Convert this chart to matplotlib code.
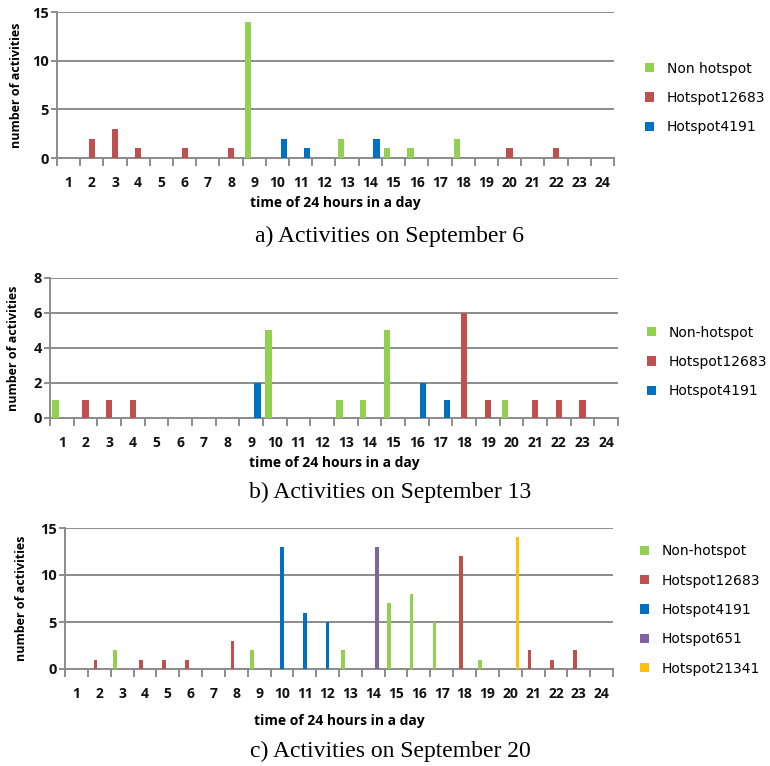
import matplotlib
matplotlib.use("Agg")
import matplotlib.pyplot as plt
import numpy as np

hours = list(range(1, 25))
hour_labels = [str(h) for h in hours]

# Panel a: September 6
a_series = ["Non hotspot", "Hotspot12683", "Hotspot4191"]
a_non = {9: 14, 13: 2, 15: 1, 16: 1, 18: 2}
a_h12683 = {2: 2, 3: 3, 4: 1, 6: 1, 8: 1, 20: 1, 22: 1}
a_h4191 = {10: 2, 11: 1, 14: 2}

# Panel b: September 13
b_series = ["Non-hotspot", "Hotspot12683", "Hotspot4191"]
b_non = {1: 1, 10: 5, 13: 1, 14: 1, 15: 5, 20: 1}
b_h12683 = {2: 1, 3: 1, 4: 1, 18: 6, 19: 1, 21: 1, 22: 1, 23: 1}
b_h4191 = {9: 2, 16: 2, 17: 1}

# Panel c: September 20
c_series = ["Non-hotspot", "Hotspot12683", "Hotspot4191", "Hotspot651", "Hotspot21341"]
c_non = {3: 2, 9: 2, 13: 2, 15: 7, 16: 8, 17: 5, 19: 1}
c_h12683 = {2: 1, 4: 1, 5: 1, 6: 1, 8: 3, 18: 12, 21: 2, 22: 1, 23: 2}
c_h4191 = {10: 13, 11: 6, 12: 5}
c_h651 = {14: 13}
c_h21341 = {20: 14}

colors = ["#92D050", "#C0504D", "#0070C0", "#8064A2", "#FFC000"]
grid_c = "#8C8C8C"

fig = plt.figure(figsize=(7.7, 7.66), dpi=100)
W, H = 770, 766

def px_axes(l, r, top, bottom):
    return [l / W, 1 - bottom / H, (r - l) / W, (bottom - top) / H]

def panel(rect, names, data, ymax, ystep, legend_xy, lab_xy, xlab_y, caption, cap_y):
    ax = fig.add_axes(rect)
    n = len(names)
    w = 0.8 / n
    x = np.array(hours, dtype=float)
    for i, (name, d) in enumerate(zip(names, data)):
        vals = [d.get(h, 0) for h in hours]
        ax.bar(x + (i - (n - 1) / 2) * w, vals, width=w, color=colors[i],
               label=name, zorder=3)
    ax.set_xlim(0.5, 24.5)
    ax.set_ylim(0, ymax)
    ax.set_yticks(np.arange(0, ymax + 0.1, ystep))
    ax.yaxis.grid(True, color=grid_c, linewidth=1.4, zorder=0)
    for s in ["top", "right"]:
        ax.spines[s].set_visible(False)
    for s in ["left", "bottom"]:
        ax.spines[s].set_color(grid_c)
        ax.spines[s].set_linewidth(1.4)
    ax.set_xticks(np.arange(0.5, 25, 1.0))
    ax.set_xticklabels([])
    ax.set_xticks(hours, minor=True)
    ax.set_xticklabels(hour_labels, minor=True, fontfamily="Open Sans",
                       fontweight="bold", fontsize=10, color="#111111")
    ax.tick_params(axis="x", which="major", length=6, color=grid_c, width=1.4)
    ax.tick_params(axis="x", which="minor", length=0, pad=13)
    ax.tick_params(axis="y", length=4, color=grid_c, width=1.4, pad=2,
                   labelsize=10.5)
    for t in ax.get_yticklabels():
        t.set_fontfamily("Open Sans")
        t.set_fontweight("bold")
        t.set_color("#111111")
    ax.set_ylabel("number of activities", fontfamily="Open Sans",
                  fontweight="bold", fontsize=9)
    ax.yaxis.set_label_coords(*lab_xy)
    ax.set_xlabel("time of 24 hours in a day", fontfamily="Open Sans",
                  fontweight="bold", fontsize=10)
    ax.xaxis.set_label_coords(0.5, xlab_y)
    ax.legend(loc="center left", bbox_to_anchor=legend_xy,
              bbox_transform=fig.transFigure, frameon=False,
              prop={"family": "DejaVu Sans", "size": 10},
              handlelength=0.65, handleheight=0.65, handletextpad=0.9,
              labelspacing=1.1, borderpad=0, borderaxespad=0)
    fig.text(390 / W, 1 - cap_y / H, caption, ha="center", va="center",
             fontfamily="Liberation Serif", fontsize=17)
    return ax

panel(px_axes(57, 614, 12, 158), a_series, [a_non, a_h12683, a_h4191], 15, 5,
      (645 / W, 1 - 98 / H), (-0.061, 0.5), -0.26,
      "a) Activities on September 6", 236)
panel(px_axes(50, 618, 278, 418), b_series, [b_non, b_h12683, b_h4191], 8, 2,
      (647 / W, 1 - 362 / H), (-0.053, 0.5), -0.274,
      "b) Activities on September 13", 492)
panel(px_axes(65, 613, 528, 669), c_series,
      [c_non, c_h12683, c_h4191, c_h651, c_h21341], 15, 5,
      (640 / W, 1 - 610 / H), (-0.067, 0.5), -0.32,
      "c) Activities on September 20", 751)

fig.savefig("out.png", dpi=100)
